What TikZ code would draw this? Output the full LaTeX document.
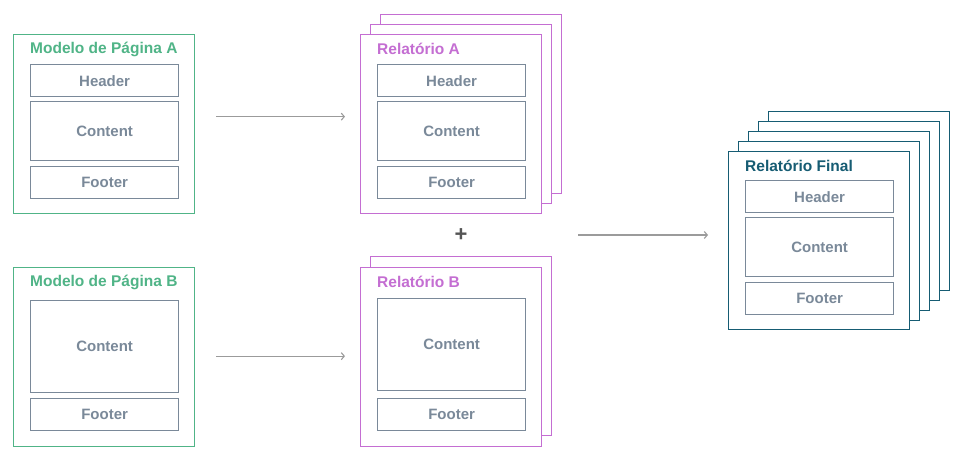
\documentclass[tikz,border=0pt]{standalone}
\usepackage{fontspec}
\setmainfont{Liberation Sans}
\usetikzlibrary{arrows.meta}
\definecolor{modelo}{RGB}{80,180,135}
\definecolor{relat}{RGB}{196,110,210}
\definecolor{final}{RGB}{22,92,115}
\definecolor{partgray}{RGB}{122,137,153}
\definecolor{arrowgray}{RGB}{155,155,155}
\definecolor{plusgray}{RGB}{85,85,85}
\tikzset{
  sheet/.style={draw, fill=white, line width=1.3pt, minimum width=181pt, minimum height=179pt, anchor=north west, inner sep=0pt},
  part/.style={draw=partgray, line width=1.3pt, text=partgray, font=\bfseries\fontsize{15}{17}\selectfont, minimum width=148pt, anchor=north west, inner sep=0pt},
  title/.style={anchor=west, font=\bfseries\fontsize{15.5}{17}\selectfont, inner sep=0pt},
  flow/.style={draw=arrowgray, line width=1.1pt, -{Straight Barb[length=3pt,width=7pt]}}
}

\begin{document}
\begin{tikzpicture}[x=1pt, y=-1pt]
\useasboundingbox (0,0) rectangle (964,461);

% page templates
\node[sheet, draw=modelo] (ma) at (13,34) {};
\node[title, text=modelo] (ma-t) at (30,49) {Modelo de Página A};
\node[part, minimum height=32pt] (ma-h) at (30,64) {Header};
\node[part, minimum height=59pt] (ma-c) at (30,101) {Content};
\node[part, minimum height=32pt] (ma-f) at (30,166) {Footer};

\node[sheet, draw=modelo] (mb) at (13,267) {};
\node[title, text=modelo] (mb-t) at (30,282) {Modelo de Página B};
\node[part, minimum height=92pt] (mb-c) at (30,300) {Content};
\node[part, minimum height=32pt] (mb-f) at (30,398) {Footer};

% reports
\foreach \k in {2,1}
  \node[sheet, draw=relat] (ra-\k) at (360+10*\k,34-10*\k) {};
\node[sheet, draw=relat] (ra) at (360,34) {};
\node[title, text=relat] (ra-t) at (377,49) {Relatório A};
\node[part, minimum height=32pt] (ra-h) at (377,64) {Header};
\node[part, minimum height=59pt] (ra-c) at (377,101) {Content};
\node[part, minimum height=32pt] (ra-f) at (377,166) {Footer};

\node[font=\bfseries\fontsize{22}{22}\selectfont, text=plusgray] (plus) at (461,235) {+};

\node[sheet, draw=relat] (rb-1) at (370,256) {};
\node[sheet, draw=relat] (rb) at (360,267) {};
\node[title, text=relat] (rb-t) at (377,282) {Relatório B};
\node[part, minimum height=92pt] (rb-c) at (377,298) {Content};
\node[part, minimum height=32pt] (rb-f) at (377,398) {Footer};

% merged output
\foreach \k in {4,3,2,1}
  \node[sheet, draw=final] (rf-\k) at (728+10*\k,151-10*\k) {};
\node[sheet, draw=final, minimum height=178pt] (rf) at (728,151) {};
\node[title, text=final] (rf-t) at (745,166) {Relatório Final};
\node[part, minimum height=32pt] (rf-h) at (745,180) {Header};
\node[part, minimum height=59pt] (rf-c) at (745,217) {Content};
\node[part, minimum height=32pt] (rf-f) at (745,282) {Footer};

% arrows
\draw[flow] ([xshift=21pt,yshift=7.5pt]ma.east) -- ([xshift=-15pt,yshift=7.5pt]ra.west);
\draw[flow] ([xshift=21pt,yshift=1pt]mb.east) -- ([xshift=-15pt,yshift=1pt]rb.west);
\draw[flow] ([xshift=117pt]plus.center) -- ([xshift=-20pt]rf.west |- plus);
\end{tikzpicture}
\end{document}
